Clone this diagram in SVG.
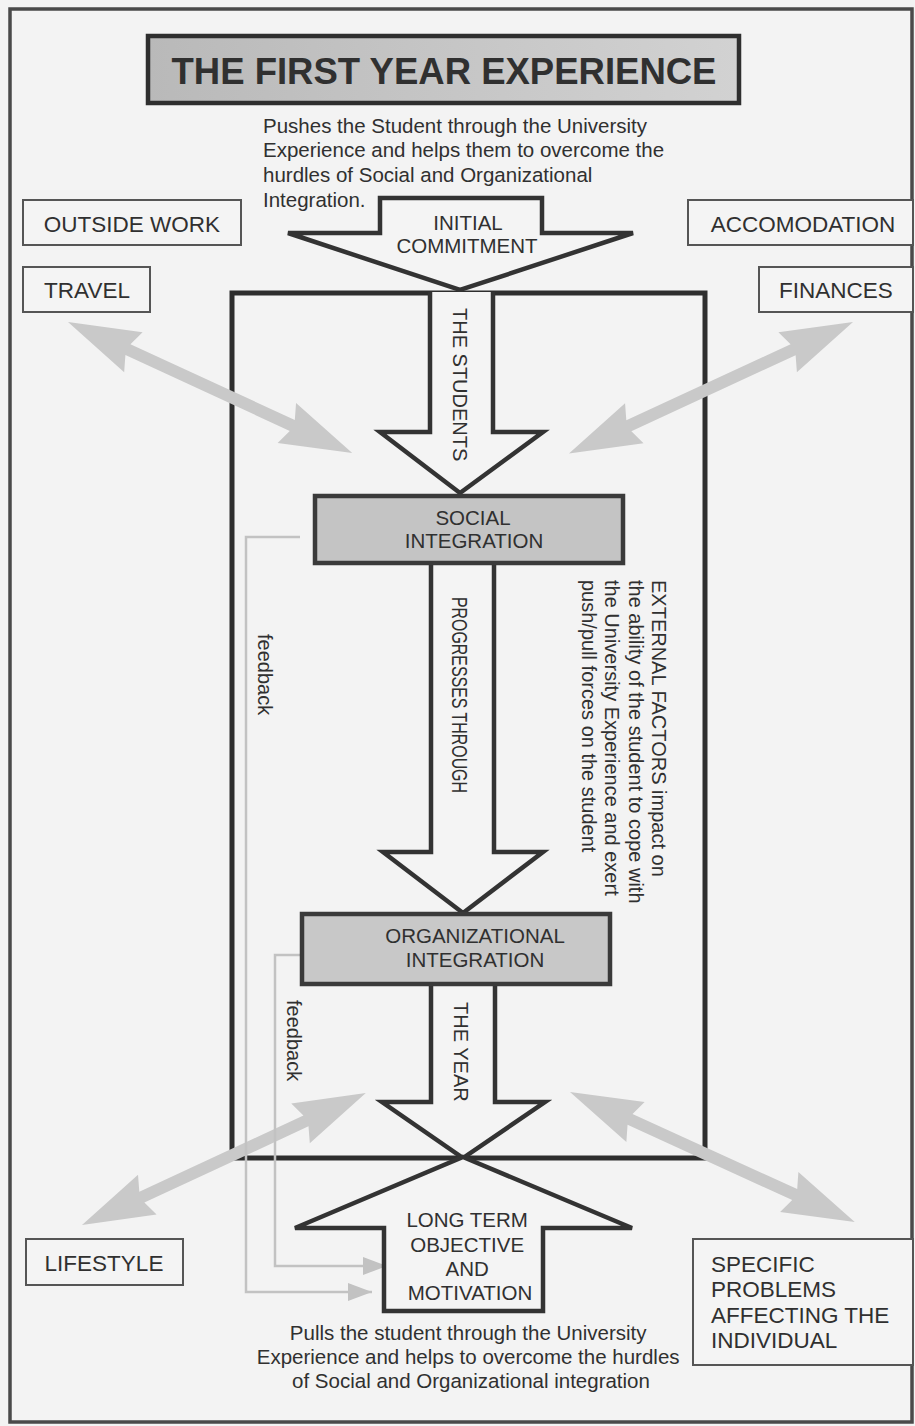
<svg xmlns="http://www.w3.org/2000/svg" width="915" height="1426" viewBox="0 0 915 1426">
  <defs>
    <style>
      .t { font-family: "Liberation Sans", Arial, sans-serif; fill: #303030; }
      .box { fill: #f4f4f4; stroke: #555; stroke-width: 2; }
      .blk { fill: #f4f4f4; stroke: #333; stroke-width: 4.5; stroke-linejoin: miter; }
      .fb { fill: none; stroke: #c2c2c2; stroke-width: 2.5; }
      .force { fill: #c9c9c9; }
    </style>
    <linearGradient id="titleFill" x1="0" y1="0" x2="1" y2="0">
      <stop offset="0" stop-color="#b9b9b9"/>
      <stop offset="1" stop-color="#d2d2d2"/>
    </linearGradient>
    <!-- two-headed block arrow, 313 long, laid along +x -->
    <path id="force" d="M0,0 L72,-22 L66,-6 L247,-6 L241,-22 L313,0 L241,22 L247,6 L66,6 L72,22 Z"/>
    <marker id="fbHead" markerUnits="userSpaceOnUse" markerWidth="24" markerHeight="18" refX="24" refY="9" orient="auto">
      <path d="M0,0 L24,9 L0,18 Z" fill="#c2c2c2"/>
    </marker>
  </defs>

  <rect width="915" height="1426" fill="#f3f3f3"/>
  <rect x="10" y="9" width="902" height="1413" fill="none" stroke="#4a4a4a" stroke-width="3.5"/>

  <!-- title -->
  <g id="title">
    <rect x="148" y="36" width="591" height="67" fill="url(#titleFill)" stroke="#2e2e2e" stroke-width="4.5"/>
    <text class="t" x="444" y="84" font-size="36.5" font-weight="bold" text-anchor="middle" fill="#333">THE FIRST YEAR EXPERIENCE</text>
  </g>

  <g id="push-note">
    <text class="t" font-size="20.5">
      <tspan x="263" y="133">Pushes the Student through the University</tspan>
      <tspan x="263" y="157">Experience and helps them to overcome the</tspan>
      <tspan x="263" y="182">hurdles of Social and Organizational</tspan>
      <tspan x="263" y="207">Integration.</tspan>
    </text>
  </g>

  <!-- external factor boxes -->
  <g id="outside-work">
    <rect class="box" x="23" y="200" width="218" height="45"/>
    <text class="t" x="132" y="232" font-size="22.5" text-anchor="middle">OUTSIDE WORK</text>
  </g>
  <g id="travel">
    <rect class="box" x="23" y="267" width="127" height="45"/>
    <text class="t" x="87" y="298" font-size="22.5" text-anchor="middle">TRAVEL</text>
  </g>
  <g id="accomodation">
    <rect class="box" x="688" y="200" width="225" height="45"/>
    <text class="t" x="803" y="232" font-size="22.5" text-anchor="middle">ACCOMODATION</text>
  </g>
  <g id="finances">
    <rect class="box" x="759" y="267" width="154" height="45"/>
    <text class="t" x="836" y="298" font-size="22.5" text-anchor="middle">FINANCES</text>
  </g>
  <g id="lifestyle">
    <rect class="box" x="26" y="1239" width="157" height="46"/>
    <text class="t" x="104" y="1271" font-size="22.5" text-anchor="middle">LIFESTYLE</text>
  </g>
  <g id="specific-problems">
    <rect class="box" x="693" y="1239" width="220" height="126"/>
    <text class="t" font-size="22.5">
      <tspan x="711" y="1272">SPECIFIC</tspan>
      <tspan x="711" y="1297">PROBLEMS</tspan>
      <tspan x="711" y="1323">AFFECTING THE</tspan>
      <tspan x="711" y="1348">INDIVIDUAL</tspan>
    </text>
  </g>

  <!-- the university year -->
  <g id="university-year">
    <rect x="232" y="293" width="473" height="865" fill="none" stroke="#2e2e2e" stroke-width="5"/>
  </g>

  <g id="initial-commitment">
    <polygon class="blk" points="380,198 542,198 542,233 633,233 460,290 288,233 380,233"/>
    <text class="t" x="468" y="230" font-size="20.5" text-anchor="middle">INITIAL</text>
    <text class="t" x="467" y="253" font-size="20.5" text-anchor="middle" fill="#6a6a6a">COMMITMENT</text>
  </g>

  <g id="connectors">
    <!-- stage arrows -->
    <g id="the-students">
      <polyline class="blk" points="430,292 430,432 380,432 460,493 543,432 493,432 493,292"/>
      <text class="t" font-size="20" transform="translate(453,308) rotate(90)">THE STUDENTS</text>
    </g>
    <g id="progresses-through">
      <polyline class="blk" points="431,563 431,852 383,852 463,913 543,852 494,852 494,563"/>
      <text class="t" font-size="21.5" textLength="196" lengthAdjust="spacingAndGlyphs" transform="translate(452,597) rotate(90)">PROGRESSES THROUGH</text>
    </g>
    <g id="the-year">
      <polyline class="blk" points="431,984 431,1102 382,1102 463,1158 545,1102 495,1102 495,984"/>
      <text class="t" font-size="20" transform="translate(454,1002) rotate(90)">THE YEAR</text>
    </g>

    <!-- push/pull forces -->
    <use href="#force" class="force" transform="translate(68,322) rotate(24.76)"/>
    <use href="#force" class="force" transform="translate(853,322) rotate(155.16)"/>
    <use href="#force" class="force" transform="translate(82,1225) rotate(-24.94)"/>
    <use href="#force" class="force" transform="translate(570,1092) rotate(24.53)"/>

    <!-- feedback loops -->
    <polyline class="fb" points="300,537 246,537 246,1292 372,1292" marker-end="url(#fbHead)"/>
    <polyline class="fb" points="304,955 275,955 275,1266 387,1266" marker-end="url(#fbHead)"/>
    <text class="t" font-size="20" transform="translate(258,634) rotate(90)">feedback</text>
    <text class="t" font-size="20" transform="translate(287,1000) rotate(90)">feedback</text>
  </g>

  <g id="social-integration">
    <rect x="315" y="496" width="308" height="67" fill="#c4c4c4" stroke="#3a3a3a" stroke-width="4.5"/>
    <text class="t" x="473" y="525" font-size="20.5" text-anchor="middle">SOCIAL</text>
    <text class="t" x="474" y="548" font-size="20.5" text-anchor="middle">INTEGRATION</text>
  </g>

  <g id="organizational-integration">
    <rect x="302" y="914" width="308" height="70" fill="#c8c8c8" stroke="#3a3a3a" stroke-width="4.5"/>
    <text class="t" x="475" y="943" font-size="20.5" text-anchor="middle">ORGANIZATIONAL</text>
    <text class="t" x="475" y="967" font-size="20.5" text-anchor="middle">INTEGRATION</text>
  </g>

  <g id="external-factors">
    <text class="t" font-size="20" transform="translate(652,580) rotate(90)">
      <tspan x="0" y="0">EXTERNAL FACTORS impact on</tspan>
      <tspan x="0" y="23.5">the ability of the student to cope with</tspan>
      <tspan x="0" y="47">the University Experience and exert</tspan>
      <tspan x="0" y="70.5">push/pull forces on the student</tspan>
    </text>
  </g>

  <g id="long-term-objective">
    <polygon class="blk" points="463,1157 632,1228 543,1228 543,1311 384,1311 384,1228 295,1228"/>
    <text class="t" font-size="20.5" text-anchor="middle">
      <tspan x="470" y="1227">LONG TERM</tspan>
      <tspan x="470" y="1252">OBJECTIVE</tspan>
      <tspan x="470" y="1276">AND</tspan>
      <tspan x="470" y="1300">MOTIVATION</tspan>
    </text>
  </g>

  <g id="pull-note">
    <text class="t" font-size="20.5" text-anchor="middle">
      <tspan x="471" y="1340">Pulls the student through the University</tspan>
      <tspan x="471" y="1364">Experience and helps to overcome the hurdles</tspan>
      <tspan x="471" y="1388">of Social and Organizational integration</tspan>
    </text>
  </g>
</svg>
